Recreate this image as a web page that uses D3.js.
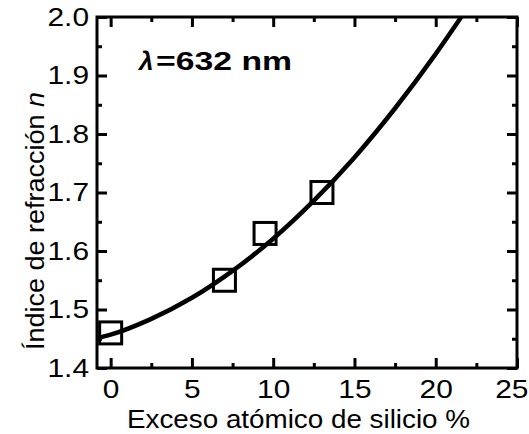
<!DOCTYPE html>
<html>
<head>
<meta charset="utf-8">
<script src="https://cdn.jsdelivr.net/npm/d3@7"></script>
<style>
  html, body { margin: 0; padding: 0; background: #fff; }
  svg { display: block; font-family: "Liberation Sans", Arial, sans-serif; }
</style>
</head>
<body>
<svg id="chart" width="529" height="434"></svg>
<script>
// Measured samples: silicon excess (%) vs refractive index at 632 nm
const siliconExcess = [0, 7, 9.5, 13];
const refractiveIndex = [1.46, 1.55, 1.63, 1.70];

// Fitted trend curve, sampled along the silicon-excess axis
const fitExcess = [-0.84, 0, 2.5, 5, 7.5, 10, 12.5, 15, 17.5, 20, 21.57];
const fitIndex  = [1.451, 1.457, 1.484, 1.520, 1.566, 1.621, 1.686, 1.760, 1.844, 1.937, 2.000];

// Axis ticks
const xMajorTicks = [0, 5, 10, 15, 20, 25];
const xMinorTicks = [2.5, 7.5, 12.5, 17.5, 22.5];
const yMajorTicks = [1.4, 1.5, 1.6, 1.7, 1.8, 1.9, 2.0];
const yMinorTicks = [1.45, 1.55, 1.65, 1.75, 1.85, 1.95];

const xTitle = "Exceso atómico de silicio %";
const yTitle = "Índice de refracción ";
const yTitleSymbol = "n";
const annotationSymbol = "λ";
const annotation = "=632 nm";

const plotLeft = 97, plotRight = 517, plotTop = 17, plotBottom = 368;
const labelStretch = 1.15;

const svg = d3.select("#chart");

const x = d3.scaleLinear().domain([-0.84, 25]).range([plotLeft, plotRight]);
const y = d3.scaleLinear().domain([1.4, 2.0]).range([plotBottom, plotTop]);

function styleAxis(g) {
  g.select(".domain").remove();
  g.selectAll(".tick line").attr("stroke", "#000").attr("stroke-width", 3);
  g.selectAll("text")
    .attr("fill", "#000")
    .attr("font-size", 26)
    .attr("transform", `scale(${labelStretch},1)`);
}

// bottom axis with labels
const xAxisG = svg.append("g").attr("transform", `translate(0,${plotBottom})`)
  .call(d3.axisBottom(x).tickValues(xMajorTicks).tickSize(-10).tickPadding(12).tickFormat(d3.format("d")))
  .call(styleAxis);
// keep the last label inside the canvas
xAxisG.selectAll(".tick text")
  .filter(d => d === xMajorTicks[xMajorTicks.length - 1])
  .attr("text-anchor", "end")
  .attr("x", 11 / labelStretch);
svg.append("g").attr("transform", `translate(0,${plotBottom})`)
  .call(d3.axisBottom(x).tickValues(xMinorTicks).tickSize(-5).tickFormat(""))
  .call(styleAxis);
// top axis (ticks only)
svg.append("g").attr("transform", `translate(0,${plotTop})`)
  .call(d3.axisTop(x).tickValues(xMajorTicks).tickSize(-10).tickFormat(""))
  .call(styleAxis);
svg.append("g").attr("transform", `translate(0,${plotTop})`)
  .call(d3.axisTop(x).tickValues(xMinorTicks).tickSize(-5).tickFormat(""))
  .call(styleAxis);
// left axis with labels
svg.append("g").attr("transform", `translate(${plotLeft},0)`)
  .call(d3.axisLeft(y).tickValues(yMajorTicks).tickSize(-10).tickPadding(8 / labelStretch).tickFormat(d3.format(".1f")))
  .call(styleAxis);
svg.append("g").attr("transform", `translate(${plotLeft},0)`)
  .call(d3.axisLeft(y).tickValues(yMinorTicks).tickSize(-5).tickFormat(""))
  .call(styleAxis);
// right axis (ticks only)
svg.append("g").attr("transform", `translate(${plotRight},0)`)
  .call(d3.axisRight(y).tickValues(yMajorTicks).tickSize(-10).tickFormat(""))
  .call(styleAxis);
svg.append("g").attr("transform", `translate(${plotRight},0)`)
  .call(d3.axisRight(y).tickValues(yMinorTicks).tickSize(-5).tickFormat(""))
  .call(styleAxis);

// fitted curve
const fitData = fitExcess.map((v, i) => [v, fitIndex[i]]);
svg.append("path")
  .datum(fitData)
  .attr("fill", "none")
  .attr("stroke", "#000")
  .attr("stroke-width", 4.5)
  .attr("d", d3.line().x(d => x(d[0])).y(d => y(d[1])).curve(d3.curveMonotoneX));

// measured points as open squares
const side = 22;
svg.append("g").selectAll("rect")
  .data(siliconExcess.map((v, i) => [v, refractiveIndex[i]]))
  .join("rect")
  .attr("x", d => x(d[0]) - side / 2)
  .attr("y", d => y(d[1]) - side / 2)
  .attr("width", side)
  .attr("height", side)
  .attr("fill", "none")
  .attr("stroke", "#000")
  .attr("stroke-width", 3);

// frame
svg.append("rect")
  .attr("x", plotLeft).attr("y", plotTop)
  .attr("width", plotRight - plotLeft).attr("height", plotBottom - plotTop)
  .attr("fill", "none").attr("stroke", "#000").attr("stroke-width", 3);

// wavelength annotation
svg.append("text")
  .attr("x", 139).attr("y", 70)
  .attr("font-size", 26).attr("font-weight", "bold").attr("font-style", "italic")
  .attr("fill", "#000")
  .text(annotationSymbol);
svg.append("text")
  .attr("x", 156).attr("y", 70)
  .attr("font-size", 26).attr("font-weight", "bold").attr("fill", "#000")
  .attr("textLength", 136).attr("lengthAdjust", "spacingAndGlyphs")
  .text(annotation);

// axis titles
svg.append("text")
  .attr("x", 127).attr("y", 428)
  .attr("font-size", 26).attr("fill", "#000")
  .attr("textLength", 343).attr("lengthAdjust", "spacingAndGlyphs")
  .text(xTitle);

const yt = svg.append("text")
  .attr("transform", "translate(44,350) rotate(-90)")
  .attr("font-size", 25).attr("fill", "#000")
  .attr("textLength", 258).attr("lengthAdjust", "spacingAndGlyphs");
yt.append("tspan").text(yTitle);
yt.append("tspan").attr("font-style", "italic").text(yTitleSymbol);
</script>
</body>
</html>
